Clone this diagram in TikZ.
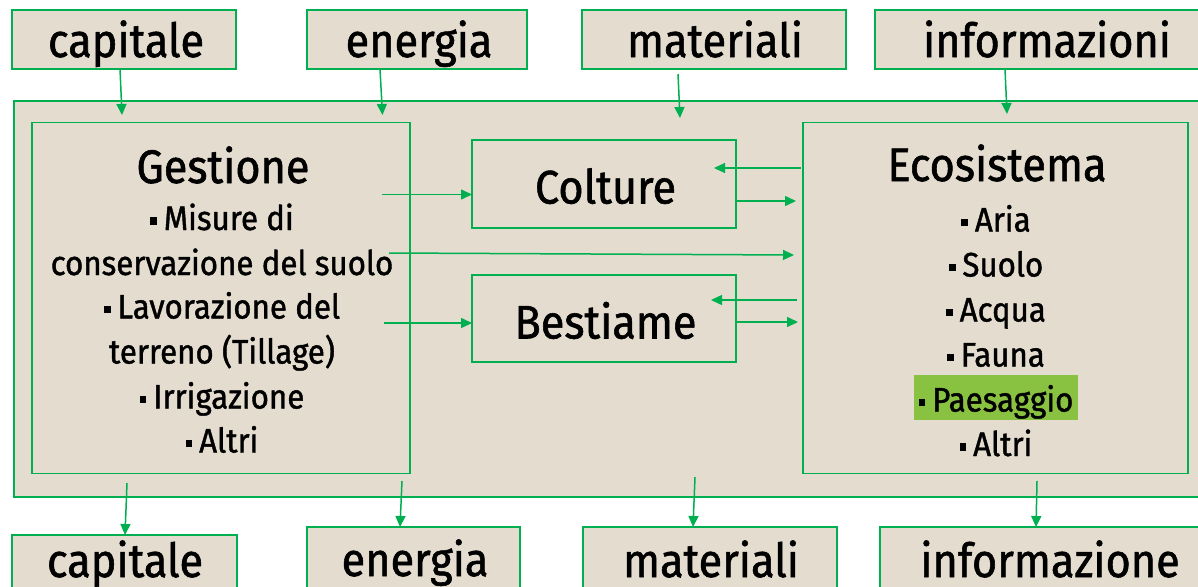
\documentclass[tikz,border=0pt]{standalone}
\usepackage{fontspec}
\setmainfont[FakeStretch=0.92, FakeBold=1.2]{Fira Sans}
\usetikzlibrary{arrows.meta}
\definecolor{gr}{RGB}{0,176,80}
\definecolor{bg}{RGB}{227,220,207}
\definecolor{hl}{RGB}{137,193,64}
\newcommand\bul{\raisebox{0.16em}{\rule{0.2em}{0.22em}}\hspace{0.2em}}
\begin{document}
\begin{tikzpicture}[x=1pt,y=-1pt,
  frame/.style={draw=gr, line width=1.8pt, inner sep=0pt, outer sep=0pt, anchor=north west},
  filled/.style={frame, fill=bg},
  arr/.style={draw=gr, line width=1.5pt, -{Triangle[length=11pt,width=10pt]}},
  lbl/.style={anchor=base, inner sep=0pt, font=\fontsize{47}{50}\selectfont},
  ttl/.style={anchor=base, inner sep=0pt, font=\fontsize{47}{50}\selectfont},
  itm/.style={anchor=base, inner sep=0pt, font=\fontsize{34}{40}\selectfont}]
\useasboundingbox (0,0) rectangle (1198,586);
% outer frame
\node[filled, minimum width=1200pt, minimum height=396pt] (outer) at (14,101) {};
% top boxes
\node[filled, minimum width=224pt, minimum height=59pt] (capT) at (12,10) {};
\node[filled, minimum width=220pt, minimum height=59pt] (enT) at (307,10) {};
\node[filled, minimum width=264pt, minimum height=59pt] (matT) at (582,10) {};
\node[filled, minimum width=340pt, minimum height=59pt] (infT) at (875,10) {};
% bottom boxes
\node[filled, minimum width=225pt, minimum height=60pt] (capB) at (12,535) {};
\node[filled, minimum width=213pt, minimum height=70pt] (enB) at (307,527) {};
\node[filled, minimum width=254pt, minimum height=70pt] (matB) at (583,527) {};
\node[filled, minimum width=330pt, minimum height=70pt] (infB) at (880,527) {};
% inner boxes
\node[frame, minimum width=378pt, minimum height=351pt] (gest) at (32,122.5) {};
\node[frame, minimum width=264pt, minimum height=88pt] (colt) at (472,140) {};
\node[frame, minimum width=264pt, minimum height=87pt] (best) at (472,275) {};
\node[frame, minimum width=385pt, minimum height=351pt] (eco) at (803,122.5) {};
% highlight
\node[anchor=north west, fill=hl, inner sep=0pt, minimum width=164pt, minimum height=45pt] (hlbox) at (914,375) {};
% labels
\node[lbl] (tCap) at (126,57) {capitale};
\node[lbl] (tEn) at (419,57) {energia};
\node[lbl] (tMat) at (715,57) {materiali};
\node[lbl] (tInf) at (1047,57) {informazioni};
\node[lbl] (bCap) at (125,577) {capitale};
\node[lbl] (bEn) at (415,576) {energia};
\node[lbl] (bMat) at (711,577) {materiali};
\node[lbl] (bInf) at (1050,577) {informazione};
% Gestione text
\node[ttl] (g0) at (223,183) {Gestione};
\node[itm] (g1) at (222,230) {\bul Misure di};
\node[itm] (g2) at (222,275) {conservazione del suolo};
\node[itm] (g3) at (222,318.5) {\bul Lavorazione del};
\node[itm] (g4) at (222,363.5) {terreno (Tillage)};
\node[itm] (g5) at (222,408.5) {\bul Irrigazione};
\node[itm] (g6) at (222,452.5) {\bul Altri};
% Colture / Bestiame
\node[ttl] (ct) at (605.5,203.5) {Colture};
\node[ttl] (bt) at (605.5,338.5) {Bestiame};
% Ecosistema text
\node[ttl] (e0) at (997,181) {Ecosistema};
\node[itm] (e1) at (996,231.5) {\bul Aria};
\node[itm] (e2) at (996,276.5) {\bul Suolo};
\node[itm] (e3) at (996,321.5) {\bul Acqua};
\node[itm] (e4) at (996,366.5) {\bul Fauna};
\node[itm] (e5) at (996,411.5) {\bul Paesaggio};
\node[itm] (e6) at (996,456) {\bul Altri};
% arrow free ends
\coordinate (a1) at (122,115);
\coordinate (a2) at (382.5,115);
\coordinate (a3s) at (678,74);
\coordinate (a3) at (680,118);
\coordinate (a4) at (1007,114);
\coordinate (gc) at (382,194.5);
\coordinate (ge) at (389,253);
\coordinate (ge2) at (794,255);
\coordinate (gb) at (384,323);
\coordinate (ec) at (801,168);
\coordinate (ec2) at (714,168);
\coordinate (ce) at (796,201);
\coordinate (eb) at (797,300);
\coordinate (eb2) at (711,300);
\coordinate (be) at (798,322);
\coordinate (b1) at (127,483);
\coordinate (b2) at (402,481);
\coordinate (b3) at (695,477);
\coordinate (b4) at (1037,481);
% arrows in
\draw[arr] ([xshift=108pt]capT.south west) -- (a1);
\draw[arr] ([xshift=73pt]enT.south west) -- (a2);
\draw[arr] (a3s) -- (a3);
\draw[arr] ([xshift=130pt]infT.south west) -- (a4);
% internal arrows
\draw[arr] (gc) -- (gc -| colt.west);
\draw[arr] (ge) -- (ge2);
\draw[arr] (gb) -- (gb -| best.west);
\draw[arr] (ec) -- (ec2);
\draw[arr] (ce -| colt.east) -- (ce);
\draw[arr] (eb) -- (eb2);
\draw[arr] (be -| best.east) -- (be);
% arrows out
\draw[arr] (b1) -- ([xshift=113pt]capB.north west);
\draw[arr] (b2) -- ([xshift=93pt]enB.north west);
\draw[arr] (b3) -- ([xshift=110pt]matB.north west);
\draw[arr] (b4) -- ([xshift=156pt]infB.north west);
\end{tikzpicture}
\end{document}
